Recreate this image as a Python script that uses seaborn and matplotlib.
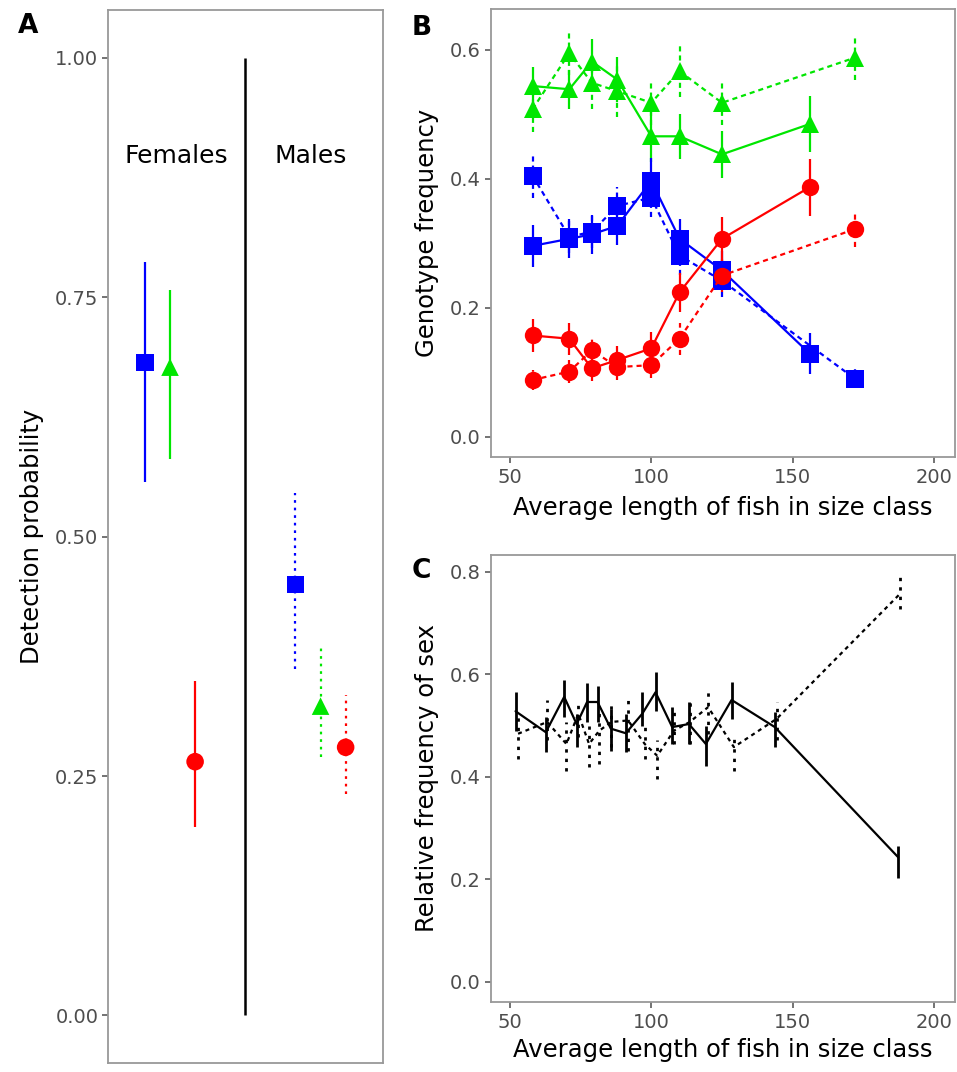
import matplotlib
matplotlib.use("Agg")
import matplotlib.pyplot as plt
import pandas as pd
import seaborn as sns

sns.set_style("white")
plt.rcParams['font.family'] = ['DejaVu Sans']
plt.rcParams['text.color'] = 'black'
plt.rcParams['axes.labelcolor'] = 'black'

# colours used for the three genotypes (no legend in the original)
geno_names = ['blue', 'green', 'red']
geno_cols = {'blue': '#0000ff', 'green': '#00e600', 'red': '#ff0000'}
geno_mark = {'blue': 's', 'green': '^', 'red': 'o'}

# ---- Panel A: detection probability
a_sex = ['Females', 'Females', 'Females', 'Males', 'Males', 'Males']
a_geno = ['blue', 'green', 'red', 'blue', 'green', 'red']
a_est = [0.682, 0.677, 0.265, 0.450, 0.323, 0.280]
a_lo = [0.557, 0.581, 0.197, 0.362, 0.270, 0.231]
a_hi = [0.787, 0.758, 0.349, 0.546, 0.385, 0.335]

# ---- Panel B: genotype frequency vs fish length
b_len_f = [58, 71, 79, 88, 100, 110, 125, 156]
b_len_m = [58, 71, 79, 88, 100, 110, 125, 172]
b_green_f = [0.544, 0.539, 0.582, 0.554, 0.466, 0.466, 0.438, 0.485]
b_green_f_err = [0.030, 0.030, 0.035, 0.035, 0.040, 0.035, 0.036, 0.044]
b_green_m = [0.508, 0.595, 0.549, 0.536, 0.518, 0.567, 0.518, 0.588]
b_green_m_err = [0.035, 0.034, 0.040, 0.040, 0.035, 0.040, 0.035, 0.034]
b_blue_f = [0.296, 0.307, 0.314, 0.327, 0.397, 0.307, 0.258, 0.129]
b_blue_f_err = [0.033, 0.030, 0.030, 0.030, 0.035, 0.030, 0.030, 0.032]
b_blue_m = [0.405, 0.310, 0.318, 0.358, 0.371, 0.281, 0.242, 0.090]
b_blue_m_err = [0.035, 0.025, 0.025, 0.030, 0.030, 0.030, 0.025, 0.015]
b_red_f = [0.157, 0.152, 0.106, 0.119, 0.137, 0.224, 0.307, 0.387]
b_red_f_err = [0.025, 0.025, 0.020, 0.022, 0.025, 0.030, 0.034, 0.044]
b_red_m = [0.088, 0.101, 0.134, 0.108, 0.111, 0.152, 0.250, 0.322]
b_red_m_err = [0.015, 0.018, 0.020, 0.020, 0.020, 0.025, 0.025, 0.028]

# ---- Panel C: relative frequency of sex vs fish length
c_len_f = [52.0, 62.7, 69.2, 73.6, 77.3, 81.0, 85.7, 91.0, 96.8, 101.5,
           107.4, 113.3, 119.3, 128.4, 143.7, 187.3]
c_frq_f = [0.528, 0.487, 0.556, 0.503, 0.546, 0.546, 0.494, 0.485, 0.523,
           0.565, 0.497, 0.503, 0.464, 0.550, 0.497, 0.243]
c_lo_f = [0.490, 0.448, 0.516, 0.458, 0.507, 0.507, 0.451, 0.448, 0.500,
          0.529, 0.464, 0.464, 0.422, 0.513, 0.458, 0.203]
c_hi_f = [0.565, 0.516, 0.588, 0.523, 0.583, 0.578, 0.533, 0.523, 0.565,
          0.604, 0.536, 0.546, 0.500, 0.585, 0.526, 0.265]
c_len_m = [52.9, 63.2, 70.0, 74.2, 78.0, 81.6, 85.9, 91.8, 97.7, 102.1,
           108.0, 113.6, 120.1, 129.2, 144.3, 188.1]
c_frq_m = [0.484, 0.507, 0.464, 0.523, 0.464, 0.490, 0.507, 0.510, 0.464,
           0.441, 0.490, 0.507, 0.536, 0.458, 0.513, 0.758]
c_lo_m = [0.435, 0.471, 0.412, 0.477, 0.419, 0.425, 0.458, 0.451, 0.435,
          0.396, 0.464, 0.464, 0.484, 0.412, 0.471, 0.728]
c_hi_m = [0.523, 0.549, 0.507, 0.542, 0.500, 0.536, 0.546, 0.549, 0.503,
          0.471, 0.536, 0.546, 0.575, 0.484, 0.546, 0.793]

DASH = (0, (2.3, 1.8))
DASH_C = (0, (1.8, 1.8))
DOT = (0, (1.2, 2.2))
TICK_COL = '#4d4d4d'
SPINE_COL = '#999999'
TITLE_FS = 17.5


def style_axes(ax):
    for s in ax.spines.values():
        s.set_color(SPINE_COL)
        s.set_linewidth(1.3)
    ax.tick_params(colors=TICK_COL, labelsize=14, length=4.5, width=1.1,
                   direction='out', left=True, bottom=True)
    ax.tick_params(axis='y', pad=2.5)
    ax.tick_params(axis='x', pad=4)


fig = plt.figure(figsize=(9.57, 10.72), dpi=100)
axA = fig.add_axes([0.1129, 0.0081, 0.2868, 0.9826])
axB = fig.add_axes([0.5127, 0.5740, 0.4852, 0.4173])
axC = fig.add_axes([0.5127, 0.0656, 0.4852, 0.4167])

# ---------------- A
dfa = pd.DataFrame({'sex': a_sex, 'geno': a_geno, 'est': a_est,
                    'lo': a_lo, 'hi': a_hi})
dfa['pos'] = [geno_names.index(g) + 1 + (6 if s == 'Males' else 0)
              for g, s in zip(dfa.geno, dfa.sex)]
for _, r in dfa.iterrows():
    ls = '-' if r.sex == 'Females' else DOT
    axA.vlines(r.pos, r.lo, r.hi, color=geno_cols[r.geno], lw=1.6,
               linestyles=[ls], zorder=2)
sns.scatterplot(data=dfa, x='pos', y='est', hue='geno', style='geno',
                palette=geno_cols, markers=geno_mark, s=160, linewidth=0,
                legend=False, ax=axA, zorder=3)
axA.vlines(5, 0, 1, color='black', lw=1.8)
axA.text(2.27, 0.897, 'Females', ha='center', va='center', fontsize=18)
axA.text(7.6, 0.897, 'Males', ha='center', va='center', fontsize=18)
axA.set_xlim(-0.47, 10.47)
axA.set_ylim(-0.05, 1.05)
axA.set_xticks([])
axA.set_yticks([0, 0.25, 0.5, 0.75, 1.0])
axA.set_yticklabels(['0.00', '0.25', '0.50', '0.75', '1.00'])
axA.set_xlabel('')
axA.set_ylabel('Detection probability', fontsize=TITLE_FS)
axA.yaxis.set_label_coords(-0.235, 0.5)
style_axes(axA)

# ---------------- B
series_b = [
    ('green', 'F', b_len_f, b_green_f, b_green_f_err),
    ('green', 'M', b_len_m, b_green_m, b_green_m_err),
    ('blue', 'F', b_len_f, b_blue_f, b_blue_f_err),
    ('blue', 'M', b_len_m, b_blue_m, b_blue_m_err),
    ('red', 'F', b_len_f, b_red_f, b_red_f_err),
    ('red', 'M', b_len_m, b_red_m, b_red_m_err),
]
for geno, sex, xs, ys, es in series_b:
    col = geno_cols[geno]
    ls = '-' if sex == 'F' else DASH
    d = pd.DataFrame({'len': xs, 'frq': ys, 'err': es})
    axB.vlines(d['len'], d['frq'] - d['err'], d['frq'] + d['err'],
               color=col, lw=1.6, linestyles=[ls], zorder=2)
    sns.lineplot(data=d, x='len', y='frq', color=col, lw=1.6, linestyle=ls,
                 marker=geno_mark[geno], markersize=12.5, markeredgewidth=0,
                 markeredgecolor=col, estimator=None, ax=axB, zorder=3)
axB.set_xlim(43.2, 207.4)
axB.set_ylim(-0.031, 0.663)
axB.set_xticks([50, 100, 150, 200])
axB.set_yticks([0.0, 0.2, 0.4, 0.6])
axB.set_yticklabels(['0.0', '0.2', '0.4', '0.6'])
axB.set_xlabel('Average length of fish in size class', fontsize=TITLE_FS)
axB.set_ylabel('Genotype frequency', fontsize=TITLE_FS)
axB.xaxis.set_label_coords(0.5, -0.088)
axB.yaxis.set_label_coords(-0.112, 0.5)
style_axes(axB)

# ---------------- C
for xs, ys, lo, hi, ls in [(c_len_f, c_frq_f, c_lo_f, c_hi_f, '-'),
                           (c_len_m, c_frq_m, c_lo_m, c_hi_m, DASH_C)]:
    d = pd.DataFrame({'len': xs, 'frq': ys, 'lo': lo, 'hi': hi})
    axC.vlines(d['len'], d['lo'], d['hi'], color='black', lw=2.0,
               linestyles=[ls if ls == '-' else DOT], zorder=2)
    sns.lineplot(data=d, x='len', y='frq', color='black', lw=1.6,
                 linestyle=ls, estimator=None, ax=axC, zorder=3)
axC.set_xlim(43.2, 207.4)
axC.set_ylim(-0.039, 0.833)
axC.set_xticks([50, 100, 150, 200])
axC.set_yticks([0.0, 0.2, 0.4, 0.6, 0.8])
axC.set_yticklabels(['0.0', '0.2', '0.4', '0.6', '0.8'])
axC.set_xlabel('Average length of fish in size class', fontsize=TITLE_FS)
axC.set_ylabel('Relative frequency of sex', fontsize=TITLE_FS)
axC.xaxis.set_label_coords(0.5, -0.081)
axC.yaxis.set_label_coords(-0.112, 0.5)
style_axes(axC)

# panel letters
fig.text(0.019, 0.969, 'A', fontsize=19, fontweight='bold', ha='left', va='baseline')
fig.text(0.430, 0.967, 'B', fontsize=19, fontweight='bold', ha='left', va='baseline')
fig.text(0.430, 0.461, 'C', fontsize=19, fontweight='bold', ha='left', va='baseline')

fig.savefig('out.png', dpi=100)
